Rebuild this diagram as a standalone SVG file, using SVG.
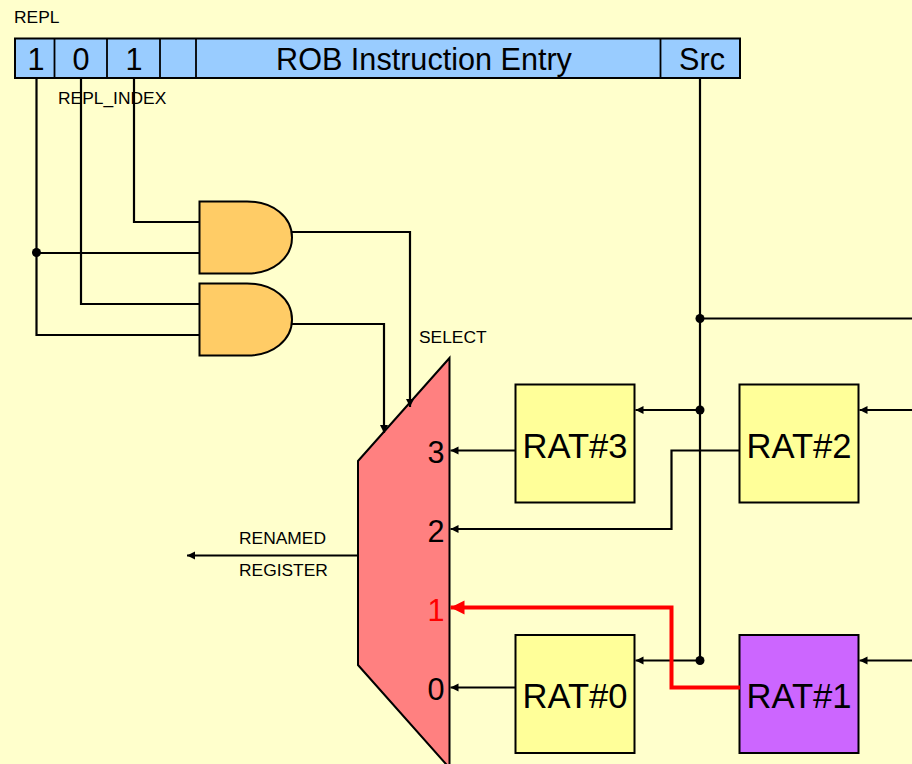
<svg xmlns="http://www.w3.org/2000/svg" width="912" height="764" viewBox="0 0 912 764">
<defs>
<marker id="ah" markerUnits="userSpaceOnUse" markerWidth="10" markerHeight="10" refX="8" refY="4" orient="auto"><path d="M0 0L8 4L0 8Z" fill="#000"/></marker>
<marker id="ahr" markerUnits="userSpaceOnUse" markerWidth="16" markerHeight="16" refX="14" refY="7" orient="auto"><path d="M0 0L14 7L0 14Z" fill="#f00"/></marker>
</defs>
<style>
text{font-family:"Liberation Sans",Arial,sans-serif;fill:#000}
.w{fill:none;stroke:#000;stroke-width:2.2}
.box{stroke:#000;stroke-width:2;fill:#ffff99}
.gate{fill:#ffcc66;stroke:#000;stroke-width:2}
.big{font-size:34.600px;text-anchor:middle}
.num{font-size:30.600px;text-anchor:middle}
.sm{font-size:17.400px}
</style>
<rect width="912" height="764" fill="#ffffcc"/>
<g id="rob">
<rect x="15" y="38.500" width="725" height="39.500" fill="#99ccff" stroke="#000" stroke-width="2"/>
<path d="M54.500 38.500V78M107 38.500V78M160 38.500V78M196 38.500V78M660.500 38.500V78" stroke="#000" stroke-width="1.800" fill="none"/>
<text class="num" x="36" y="70">1</text>
<text class="num" x="81" y="70">0</text>
<text class="num" x="134" y="70">1</text>
<text class="num" x="424" y="70">ROB Instruction Entry</text>
<text class="num" x="702" y="70">Src</text>
</g>
<g id="and1"><path class="gate" d="M199.500 201.500H247C273 201.500 292 217 292 237.500C292 258 273 273.500 247 273.500H199.500Z"/></g>
<g id="and2"><path class="gate" d="M199.500 283.500H247C273 283.500 292 299 292 319.500C292 340 273 355.500 247 355.500H199.500Z"/></g>
<g id="mux">
<path d="M358 461L449.500 358V768L358 665Z" fill="#ff8080" stroke="#000" stroke-width="2"/>
<text class="num" x="436" y="463">3</text>
<text class="num" x="436" y="542">2</text>
<text class="num" x="436" y="621" style="fill:#f00">1</text>
<text class="num" x="436" y="700">0</text>
</g>
<g id="rat3"><rect class="box" x="515.500" y="384.500" width="119" height="118"/><text class="big" x="575" y="458">RAT#3</text></g>
<g id="rat2"><rect class="box" x="739.500" y="384.500" width="119" height="118"/><text class="big" x="799" y="458">RAT#2</text></g>
<g id="rat0"><rect class="box" x="515.500" y="635" width="119" height="118"/><text class="big" x="575" y="708">RAT#0</text></g>
<g id="rat1"><rect class="box" x="739.500" y="635" width="119" height="118" style="fill:#cc66ff"/><text class="big" x="799" y="708">RAT#1</text></g>
<g id="connectors">
<path class="w" d="M36.500 78V335H199"/>
<path class="w" d="M81 78V304H199"/>
<path class="w" d="M134 78V222H199"/>
<path class="w" d="M36.500 253H199"/>
<path class="w" d="M292 232H410V407" marker-end="url(#ah)"/>
<path class="w" d="M292 324H384V433" marker-end="url(#ah)"/>
<path class="w" d="M700 78V660"/>
<path class="w" d="M700 318.500H912"/>
<path class="w" d="M700 410H635.500" marker-end="url(#ah)"/>
<path class="w" d="M700 660.500H635.500" marker-end="url(#ah)"/>
<path class="w" d="M912 410H859.500" marker-end="url(#ah)"/>
<path class="w" d="M912 660.500H859.500" marker-end="url(#ah)"/>
<path class="w" d="M516 450.500H450.500" marker-end="url(#ah)"/>
<path class="w" d="M740 450.500H671.500V529H450.500" marker-end="url(#ah)"/>
<path class="w" d="M516 687.500H450.500" marker-end="url(#ah)"/>
<path fill="none" stroke="#f00" stroke-width="4" d="M740 687.500H671.500V607.500H450.500" marker-end="url(#ahr)"/>
<path class="w" d="M358 555.500H187" marker-end="url(#ah)"/>
<circle cx="36.500" cy="252.500" r="4.500"/>
<circle cx="700" cy="318.500" r="4.500"/>
<circle cx="700" cy="410" r="4.500"/>
<circle cx="700" cy="660.500" r="4.500"/>
</g>
<g id="labels">
<text class="sm" x="14" y="23">REPL</text>
<text class="sm" x="58" y="104">REPL_INDEX</text>
<text class="sm" x="419" y="343">SELECT</text>
<text class="sm" x="239" y="544">RENAMED</text>
<text class="sm" x="239" y="576">REGISTER</text>
</g>
</svg>
